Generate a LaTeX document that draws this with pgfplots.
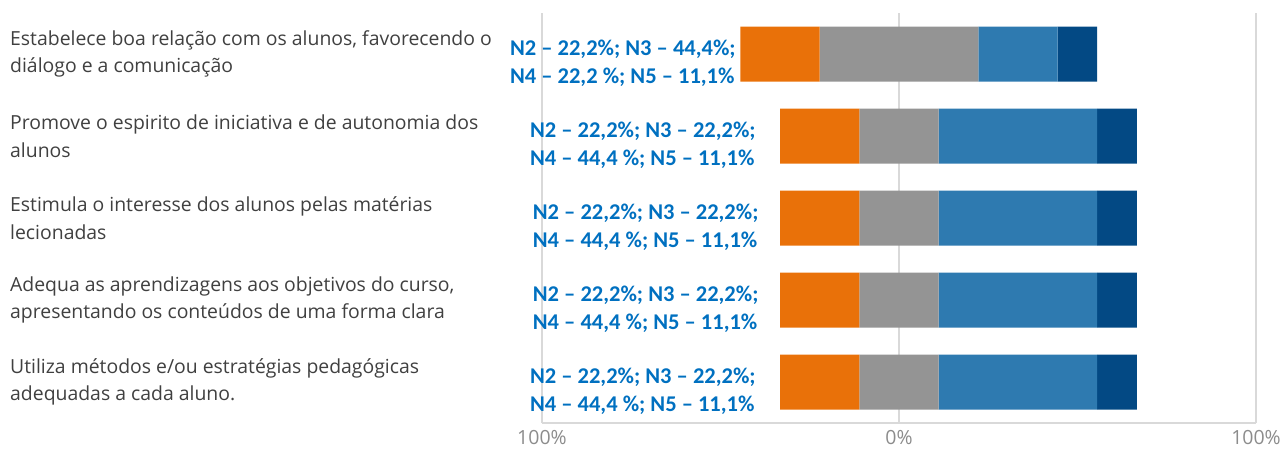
\documentclass[border=0pt]{standalone}
\usepackage{pgfplots}
\pgfplotsset{compat=1.18}
\usepackage{fontspec}
\setmainfont{Open Sans}
\newfontfamily\annfont{Carlito}
\definecolor{cOrange}{RGB}{233,113,9}
\definecolor{cGray}{RGB}{148,148,148}
\definecolor{cBlue}{RGB}{46,122,176}
\definecolor{cNavy}{RGB}{3,73,132}
\definecolor{cText}{RGB}{64,64,64}
\definecolor{cAnn}{RGB}{0,112,192}
\definecolor{cGrid}{RGB}{217,217,217}
\definecolor{cTick}{RGB}{140,140,140}
\tikzset{ann/.style={anchor=west, align=left, inner sep=0pt,
    font=\annfont\bfseries\fontsize{22.5}{28}\selectfont, text=cAnn}}
\begin{document}
\begin{tikzpicture}[x=1pt,y=1pt]
\path[use as bounding box] (0,0) rectangle (1282,448);
\begin{axis}[
  at={(542pt,25pt)}, anchor=south west,
  scale only axis, width=714pt, height=410pt,
  xmin=-100, xmax=100, ymin=-0.5, ymax=4.5, y dir=reverse,
  xbar stacked, stack negative=on previous, bar width=55pt,
  clip=false,
  separate axis lines,
  axis x line*=bottom, axis y line*=box,
  axis line style={cGrid, line width=1.3pt},
  xmajorgrids, grid style={cGrid, line width=1.6pt},
  major tick length=0pt,
  xtick={-100,0,100}, xticklabels={100\%,0\%,100\%},
  xticklabel style={font=\fontsize{19.5}{22}\selectfont, text=cTick, inner sep=0pt, yshift=-7pt},
  ytick={0,1,2,3,4},
  yticklabels={
    {Estabelece boa relação com os alunos, favorecendo o\\diálogo e a comunicação},
    {Promove o espirito de iniciativa e de autonomia dos\\alunos},
    {Estimula o interesse dos alunos pelas matérias\\lecionadas},
    {Adequa as aprendizagens aos objetivos do curso,\\apresentando os conteúdos de uma forma clara},
    {Utiliza métodos e/ou estratégias pedagógicas\\adequadas a cada aluno.}},
  yticklabel style={anchor=west, align=left, inner sep=0pt, xshift=-532pt,
    font=\fontsize{19.4}{27.5}\selectfont, text=cText},
]
% invisible offset so that the neutral level (N3) is centred on 0
\addplot[fill=none, draw=none] coordinates {(-44.4,0) (-33.3,1) (-33.3,2) (-33.3,3) (-33.3,4)};
\addplot[fill=cOrange, draw=none] coordinates {(22.2,0) (22.2,1) (22.2,2) (22.2,3) (22.2,4)};
\addplot[fill=cGray, draw=none] coordinates {(44.4,0) (22.2,1) (22.2,2) (22.2,3) (22.2,4)};
\addplot[fill=cBlue, draw=none] coordinates {(22.2,0) (44.4,1) (44.4,2) (44.4,3) (44.4,4)};
\addplot[fill=cNavy, draw=none] coordinates {(11.1,0) (11.1,1) (11.1,2) (11.1,3) (11.1,4)};
\draw[draw=cGrid, line width=1.6pt, opacity=0.8] (axis cs:0,-0.5) -- (axis cs:0,4.5);
\node[ann] at (axis cs:-109.0,0.11) {N2 – 22,2\%; N3 – 44,4\%;\\N4 – 22,2 \%; N5 – 11,1\%};
\node[ann] at (axis cs:-103.4,1.11) {N2 – 22,2\%; N3 – 22,2\%;\\N4 – 44,4 \%; N5 – 11,1\%};
\node[ann] at (axis cs:-102.6,2.11) {N2 – 22,2\%; N3 – 22,2\%;\\N4 – 44,4 \%; N5 – 11,1\%};
\node[ann] at (axis cs:-102.6,3.11) {N2 – 22,2\%; N3 – 22,2\%;\\N4 – 44,4 \%; N5 – 11,1\%};
\node[ann] at (axis cs:-103.4,4.11) {N2 – 22,2\%; N3 – 22,2\%;\\N4 – 44,4 \%; N5 – 11,1\%};
\end{axis}
\end{tikzpicture}
\end{document}
